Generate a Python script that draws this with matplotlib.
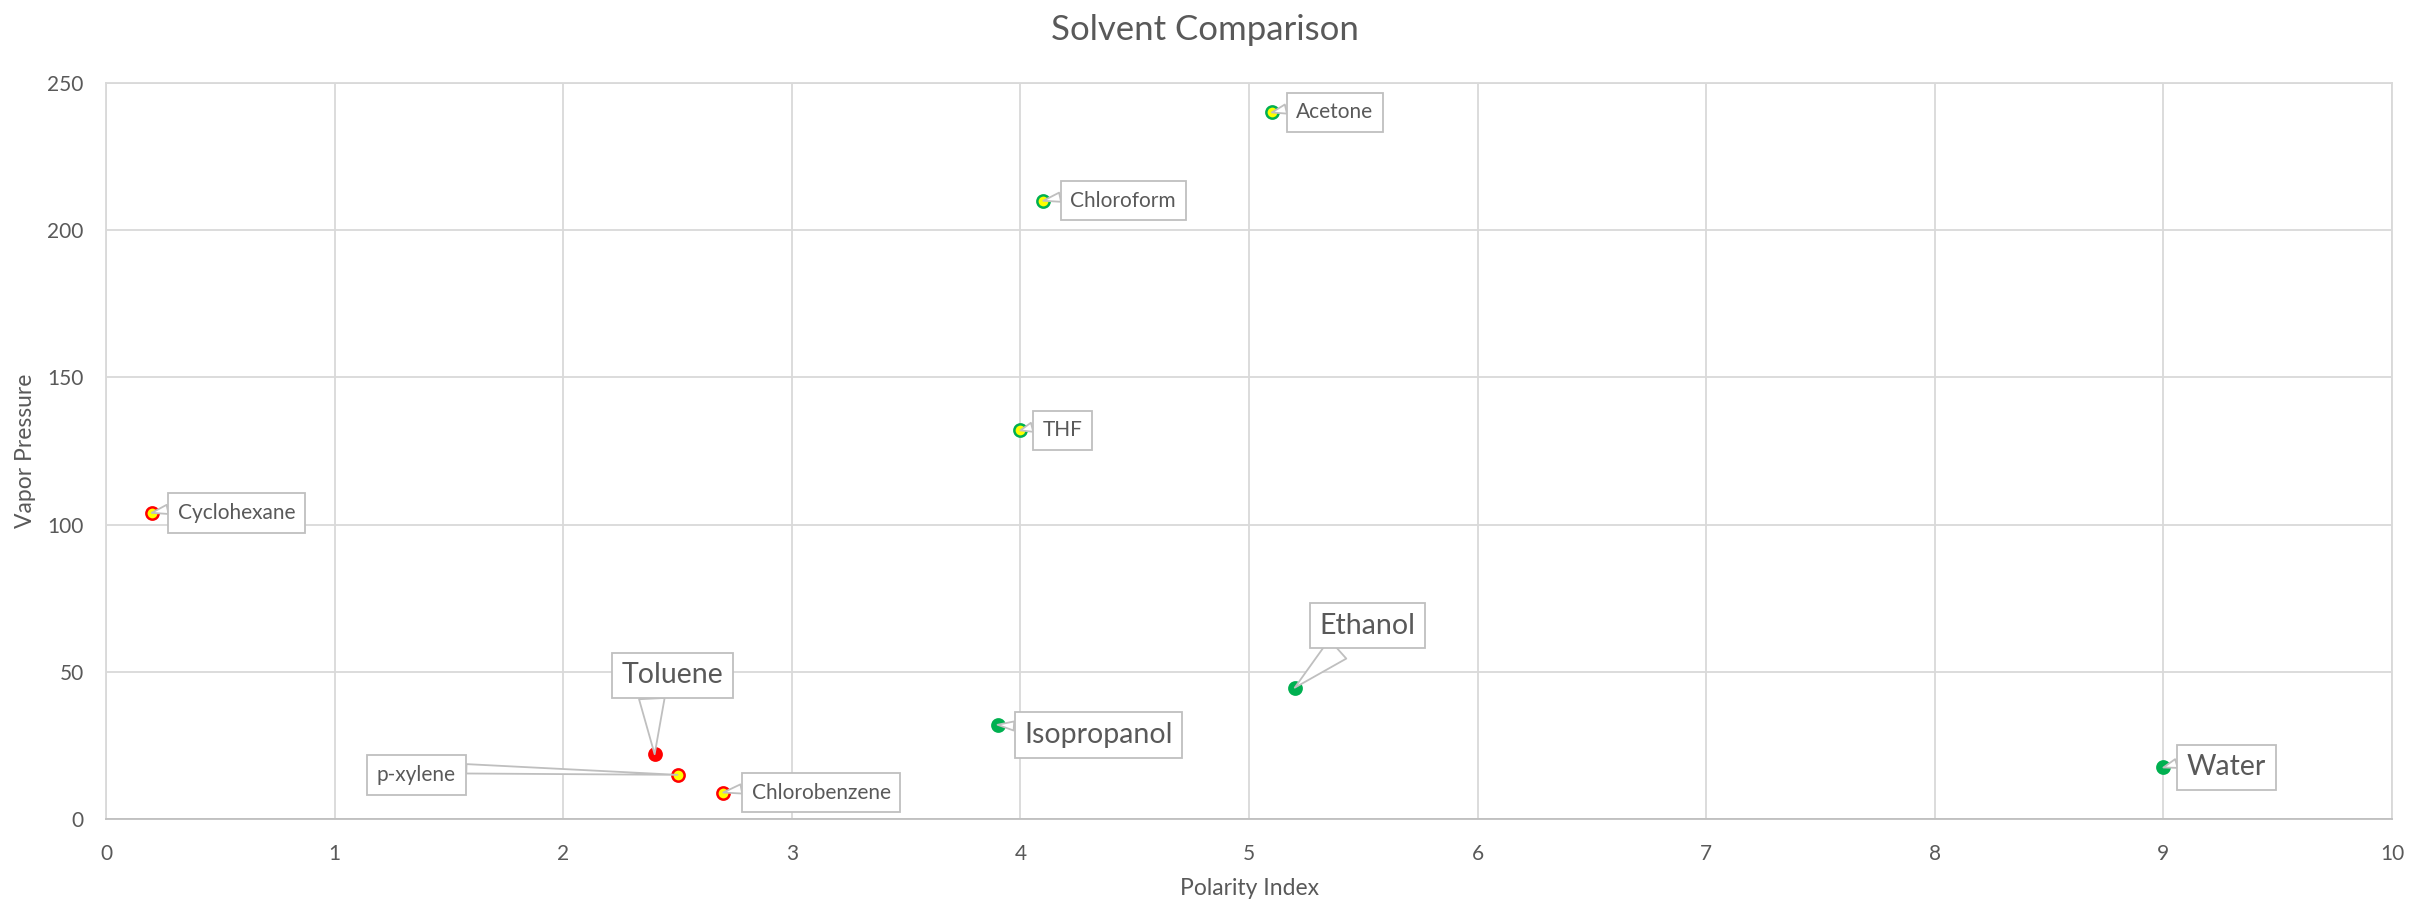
import matplotlib
matplotlib.use("Agg")
import matplotlib.pyplot as plt

# ---- data -------------------------------------------------------------
solvents = ["Acetone", "Chloroform", "THF", "Cyclohexane", "Toluene",
            "p-xylene", "Chlorobenzene", "Isopropanol", "Ethanol", "Water"]
polarity_index = [5.1, 4.1, 4.0, 0.2, 2.4, 2.5, 2.7, 3.9, 5.2, 9.0]
vapor_pressure = [240, 210, 132, 104, 22, 15, 9, 32, 44.6, 17.5]
solvent_class = ["aprotic", "aprotic", "aprotic", "nonpolar", "toluene",
                 "nonpolar", "nonpolar", "protic", "protic", "protic"]

x_ticks = [0, 1, 2, 3, 4, 5, 6, 7, 8, 9, 10]
y_ticks = [0, 50, 100, 150, 200, 250]

# ---- styling ----------------------------------------------------------
TEXT = "#595959"
GRID = "#D9D9D9"
AXIS = "#BFBFBF"
BOX_EDGE = "#BFBFBF"
GREEN = "#00B050"
YELLOW = "#FFFF00"
RED = "#FF0000"

class_style = {
    "aprotic": dict(fc=YELLOW, ec=GREEN),
    "nonpolar": dict(fc=YELLOW, ec=RED),
    "toluene": dict(fc=RED, ec=RED),
    "protic": dict(fc=GREEN, ec=GREEN),
}

SMALL, LARGE = 15, 20.5
# callout centre offset from the point (pixels), font size,
# pointer width and where the pointer leaves the box (relative position)
callout = {
    "Acetone": (63, 0, SMALL, 0.45, (0.03, 0.82)),
    "Chloroform": (80, 0, SMALL, 0.45, (0.03, 0.82)),
    "THF": (42, 0, SMALL, 0.45, (0.05, 0.82)),
    "Cyclohexane": (85, 0, SMALL, 0.45, (0.03, 0.82)),
    "Toluene": (18, 79, LARGE, 0.9, (0.29, 0.04)),
    "p-xylene": (-261, 0, SMALL, 0.45, (0.97, 0.82)),
    "Chlorobenzene": (98, 0, SMALL, 0.45, (0.03, 0.82)),
    "Isopropanol": (101, -10, LARGE, 0.32, (0.03, 0.8)),
    "Ethanol": (73, 62, LARGE, 0.9, (0.32, 0.04)),
    "Water": (63, 0, LARGE, 0.32, (0.03, 0.8)),
}

plt.rcParams["font.family"] = ["Lato", "DejaVu Sans"]

W, H = 2410, 905
fig = plt.figure(figsize=(W / 100, H / 100), dpi=100)
ax = fig.add_axes([106 / W, 1 - 819 / H, (2392 - 106) / W, (819 - 83) / H])

ax.set_xlim(x_ticks[0], x_ticks[-1])
ax.set_ylim(y_ticks[0], y_ticks[-1])
ax.set_xticks(x_ticks)
ax.set_yticks(y_ticks)
ax.grid(True, color=GRID, lw=1.3)
ax.set_axisbelow(True)
for side in ("left", "top", "right"):
    ax.spines[side].set_color(GRID)
    ax.spines[side].set_linewidth(1.3)
ax.spines["bottom"].set_color(AXIS)
ax.spines["bottom"].set_linewidth(1.3)
ax.tick_params(length=0, labelsize=15, labelcolor=TEXT)
ax.tick_params(axis="x", pad=18)
ax.tick_params(axis="y", pad=16)

for name, x, y, cls in zip(solvents, polarity_index, vapor_pressure, solvent_class):
    st = class_style[cls]
    ax.scatter([x], [y], s=78, facecolor=st["fc"], edgecolor=st["ec"],
               linewidth=1.8, zorder=4)

for name, x, y in zip(solvents, polarity_index, vapor_pressure):
    dx, dy, fs, tw, rel = callout[name]
    pad = 7.0 / fs
    ax.annotate(
        name, xy=(x, y), xytext=(dx, dy), textcoords="offset pixels",
        ha="center", va="center", fontsize=fs, color=TEXT, zorder=5,
        bbox=dict(boxstyle=f"square,pad={pad:.3f}", fc="white",
                  ec=BOX_EDGE, lw=1.3),
        arrowprops=dict(arrowstyle=f"wedge,tail_width={tw},shrink_factor=0.5",
                        fc="white", ec=BOX_EDGE, lw=1.3, relpos=rel,
                        shrinkA=0, shrinkB=0),
    )

fig.text(0.5, 1 - 40 / H, "Solvent Comparison", ha="center", va="baseline",
         fontsize=25, color=TEXT)
fig.text((106 + 2392) / 2 / W, 1 - 895 / H, "Polarity Index", ha="center",
         va="baseline", fontsize=16.5, color=TEXT)
fig.text(26 / W, 1 - 451 / H, "Vapor Pressure", ha="center", va="center",
         rotation=90, fontsize=16.5, color=TEXT)

fig.savefig("out.png", dpi=100, facecolor="white")
